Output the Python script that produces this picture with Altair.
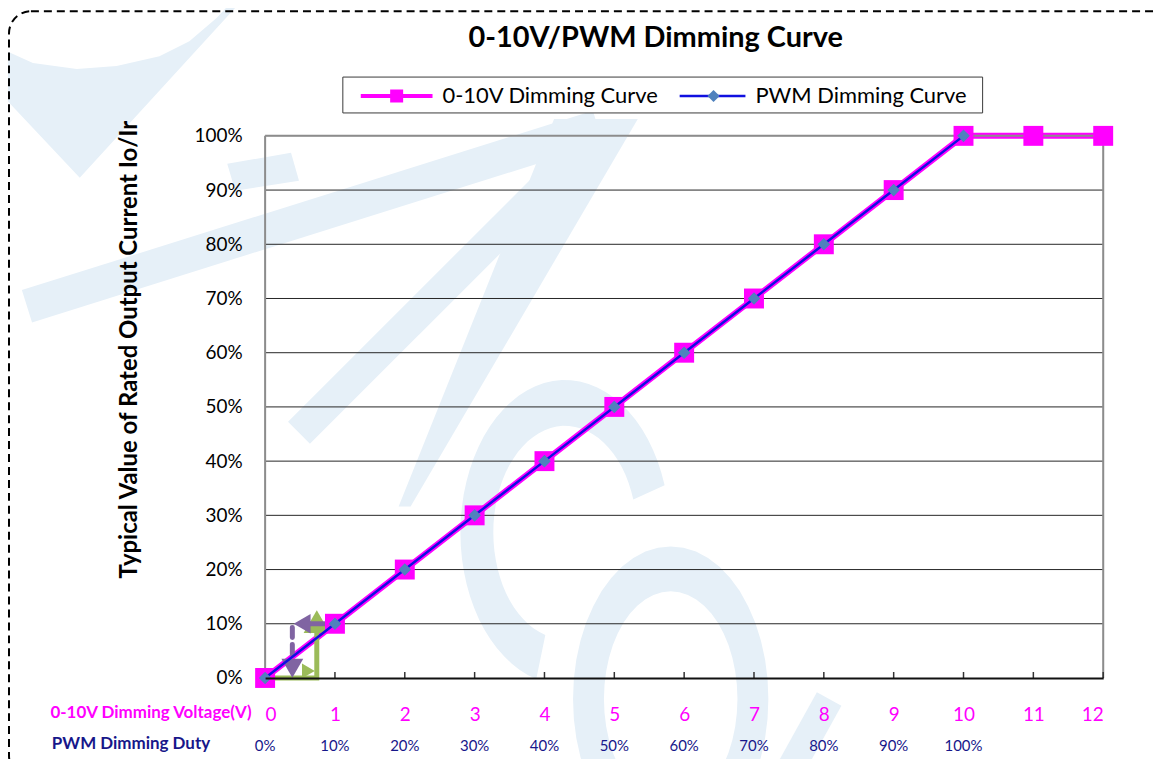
import math
import altair as alt
import pandas as pd

# ---- data ----
volt_x = [0, 1, 2, 3, 4, 5, 6, 7, 8, 9, 10, 11, 12]
volt_y = [0, 10, 20, 30, 40, 50, 60, 70, 80, 90, 100, 100, 100]
pwm_x = [0, 1, 2, 3, 4, 5, 6, 7, 8, 9, 10]
pwm_y = [0, 10, 20, 30, 40, 50, 60, 70, 80, 90, 100]
duty_labels = ["0%", "10%", "20%", "30%", "40%", "50%", "60%", "70%", "80%", "90%", "100%"]
y_ticks = [0, 10, 20, 30, 40, 50, 60, 70, 80, 90, 100]
grid_y = [10, 20, 30, 40, 50, 60, 70, 80, 90]

# annotation arrows (data units)
green_x = [0, 0.74, 0.74]
green_y = [0, 0, 8.5]
purple_hx = [0.92, 0.58]
purple_hy = [10, 10]
purple_vx = [0.39, 0.39]
purple_vy = [9.3, 3.6]

FONT = "Lato"
MAGENTA = "#ff00ff"
NAVY = "#17178a"
WM = "#e6f0f8"
W, H = 841, 544
OX, OY = 266, 135  # page position of the plot origin (for the watermark drawing)

volt_df = pd.DataFrame({"v": volt_x, "pct": volt_y})
pwm_df = pd.DataFrame({"v": pwm_x, "pct": pwm_y})
duty_df = pd.DataFrame({"v": pwm_x, "duty": duty_labels})
tick_df = pd.DataFrame({"v": volt_x})
grid_df = pd.DataFrame({"pct": grid_y})
one = pd.DataFrame({"k": [0]})

xs = alt.Scale(domain=[0, 12], nice=False, zero=False)
ys = alt.Scale(domain=[0, 100], nice=False)


# ---- watermark helpers (decorative background logo) ----
def poly(pts):
    return "M" + "L".join(f"{x - OX:.1f},{y - OY:.1f}" for x, y in pts) + "Z"


def ring(cx, cy, rxo, ryo, rxi, ryi, t0, t1, n=48):
    outer = [(cx + rxo * math.cos(math.radians(t0 + (t1 - t0) * i / n)),
              cy + ryo * math.sin(math.radians(t0 + (t1 - t0) * i / n))) for i in range(n + 1)]
    inner = [(cx + rxi * math.cos(math.radians(t1 - (t1 - t0) * i / n)),
              cy + ryi * math.sin(math.radians(t1 - (t1 - t0) * i / n))) for i in range(n + 1)]
    return outer, inner


def band(x1, y1, x2, y2, w):
    dx, dy = x2 - x1, y2 - y1
    L = math.hypot(dx, dy)
    nx, ny = -dy / L * w / 2, dx / L * w / 2
    return [(x1 + nx, y1 + ny), (x2 + nx, y2 + ny), (x2 - nx, y2 - ny), (x1 - nx, y1 - ny)]


c_out, c_in = ring(567, 533, 105, 153, 72, 107, -18, -254)
o_out, o_in = ring(673, 700, 98, 153, 67, 108, 0, 360)
wm_paths = [
    poly(c_out + c_in),
    poly(o_out) + poly(o_in),
    poly([(0, 47), (33, 62), (77, 68), (117, 65), (160, 55), (190, 40), (217, 17), (233, 0),
          (242, 0), (80, 177), (0, 92)]),
    poly(band(27, 306, 600, 126, 34)),
    poly(band(300, 433, 565, 168, 31)),
    poly([(556, 118), (640, 118), (412, 507), (400, 507)]),
    poly([(228, 163), (292, 152), (300, 180), (236, 190)]),
    poly(band(832, 700, 785, 785, 28)),
]
watermark = [
    alt.Chart(one).mark_point(shape=p, size=4, filled=True, color=WM, opacity=1, strokeWidth=0).encode(
        x=alt.value(0), y=alt.value(0))
    for p in wm_paths
]

# outer dashed border
border = alt.Chart(one).mark_rect(
    fill=None, fillOpacity=0, stroke="black", strokeWidth=2, strokeDash=[8, 5], cornerRadius=22
).encode(x=alt.value(-257), x2=alt.value(W + 120), y=alt.value(-125), y2=alt.value(H + 100))

# axes carried by the main line
volt_line = alt.Chart(volt_df).mark_line(color=MAGENTA, strokeWidth=6).encode(
    x=alt.X("v:Q", scale=xs, axis=alt.Axis(
        values=volt_x, format="d", labelColor=MAGENTA, labelFontSize=19, labelFont=FONT,
        ticks=False, tickSize=0, labelPadding=37, labelBaseline="middle",
        domainColor="#111111", domainWidth=2, grid=False, zindex=1,
        title="0-10V Dimming Voltage(V)", titleX=-14, titleY=35, titleAlign="right",
        titleBaseline="middle", titleColor=MAGENTA, titleFontSize=17, titleFontWeight="bold",
        titleFont=FONT)),
    y=alt.Y("pct:Q", scale=ys, axis=alt.Axis(
        values=y_ticks, labelExpr="datum.value + '%'", labelFontSize=19, labelFont=FONT,
        labelColor="black", labelPadding=23, ticks=False, tickSize=0, domain=False,
        grid=False, zindex=1,
        title="Typical Value of Rated Output Current Io/Ir", titleFontSize=24,
        titleFontWeight="bold", titleFont=FONT, titleColor="black",
        titleX=-136, titleY=214, titleAngle=270, titleAlign="center", titleBaseline="middle")),
)

grid = alt.Chart(grid_df).mark_rule(color="#262626", strokeWidth=1).encode(
    y=alt.Y("pct:Q", scale=ys), x=alt.value(0), x2=alt.value(W))
frame_left = alt.Chart(one).mark_rule(color="#8c8c8c", strokeWidth=2).encode(
    x=alt.value(0), y=alt.value(0), y2=alt.value(H))
frame_right = alt.Chart(one).mark_rule(color="#8c8c8c", strokeWidth=2).encode(
    x=alt.value(W), y=alt.value(0), y2=alt.value(H))
frame_top = alt.Chart(one).mark_rule(color="#8c8c8c", strokeWidth=2).encode(
    x=alt.value(0), x2=alt.value(W), y=alt.value(0))

ticks = alt.Chart(tick_df).mark_rule(color="#333333", strokeWidth=1.5).encode(
    x=alt.X("v:Q", scale=xs), y=alt.value(H - 6), y2=alt.value(H))

volt_pts = alt.Chart(volt_df).mark_point(shape="square", filled=True, color=MAGENTA, size=400, opacity=1).encode(
    x=alt.X("v:Q", scale=xs), y=alt.Y("pct:Q", scale=ys))
pwm_line = alt.Chart(pwm_df).mark_line(color="#1010e0", strokeWidth=2.5).encode(
    x=alt.X("v:Q", scale=xs), y=alt.Y("pct:Q", scale=ys))
pwm_pts = alt.Chart(pwm_df).mark_point(shape="diamond", filled=True, color="#4f81bd", size=160, opacity=1).encode(
    x=alt.X("v:Q", scale=xs), y=alt.Y("pct:Q", scale=ys))

# annotation arrows
GREEN = "#9bbb59"
PURPLE = "#8064a2"
g_df = pd.DataFrame({"v": green_x, "pct": green_y, "o": [0, 1, 2]})
green_line = alt.Chart(g_df).mark_line(color=GREEN, strokeWidth=5).encode(
    x=alt.X("v:Q", scale=xs), y=alt.Y("pct:Q", scale=ys), order="o:Q")
green_head = alt.Chart(pd.DataFrame({"v": [0.74], "pct": [10.4]})).mark_point(
    shape="triangle-up", filled=True, color=GREEN, size=700, opacity=1).encode(
    x=alt.X("v:Q", scale=xs), y=alt.Y("pct:Q", scale=ys))
green_small = alt.Chart(pd.DataFrame({"v": [0.62], "pct": [1.3]})).mark_point(
    shape="triangle-right", filled=True, color=GREEN, size=220, opacity=1).encode(
    x=alt.X("v:Q", scale=xs), y=alt.Y("pct:Q", scale=ys))
ph_df = pd.DataFrame({"v": purple_hx, "pct": purple_hy})
purple_h = alt.Chart(ph_df).mark_line(color=PURPLE, strokeWidth=5).encode(
    x=alt.X("v:Q", scale=xs), y=alt.Y("pct:Q", scale=ys))
purple_left = alt.Chart(pd.DataFrame({"v": [0.53], "pct": [10]})).mark_point(
    shape="triangle-left", filled=True, color=PURPLE, size=380, opacity=1).encode(
    x=alt.X("v:Q", scale=xs), y=alt.Y("pct:Q", scale=ys))
pv_df = pd.DataFrame({"v": purple_vx, "pct": purple_vy})
purple_v = alt.Chart(pv_df).mark_line(color=PURPLE, strokeWidth=5, strokeDash=[10, 7], strokeCap="round").encode(
    x=alt.X("v:Q", scale=xs), y=alt.Y("pct:Q", scale=ys))
purple_down = alt.Chart(pd.DataFrame({"v": [0.39], "pct": [1.8]})).mark_point(
    shape="triangle-down", filled=True, color=PURPLE, size=480, opacity=1).encode(
    x=alt.X("v:Q", scale=xs), y=alt.Y("pct:Q", scale=ys))

# second label row
duty_text = alt.Chart(duty_df).mark_text(fontSize=15, font=FONT, color=NAVY, baseline="middle").encode(
    x=alt.X("v:Q", scale=xs), y=alt.value(H + 68), text="duty:N")
duty_title = alt.Chart(one).mark_text(
    text="PWM Dimming Duty", fontSize=17, font=FONT, fontWeight="bold", color=NAVY,
    align="left", baseline="middle").encode(x=alt.value(-214), y=alt.value(H + 66))

# chart title
title = alt.Chart(one).mark_text(
    text="0-10V/PWM Dimming Curve", fontSize=29, font=FONT, fontWeight="bold", color="black",
    align="center", baseline="middle").encode(x=alt.value(392), y=alt.value(-98))

# legend
leg_box = alt.Chart(one).mark_rect(fill="white", stroke="#3a3a3a", strokeWidth=1).encode(
    x=alt.value(78), x2=alt.value(720), y=alt.value(-59), y2=alt.value(-23))
leg_l1 = alt.Chart(one).mark_rule(color=MAGENTA, strokeWidth=4).encode(
    x=alt.value(96), x2=alt.value(168), y=alt.value(-40))
leg_p1 = alt.Chart(one).mark_point(shape="square", filled=True, color=MAGENTA, size=170, opacity=1).encode(
    x=alt.value(132), y=alt.value(-40))
leg_t1 = alt.Chart(one).mark_text(text="0-10V Dimming Curve", fontSize=22, font=FONT, align="left",
                                  baseline="middle", color="black").encode(x=alt.value(178), y=alt.value(-40))
leg_l2 = alt.Chart(one).mark_rule(color="#1010e0", strokeWidth=2.5).encode(
    x=alt.value(416), x2=alt.value(482), y=alt.value(-40))
leg_p2 = alt.Chart(one).mark_point(shape="diamond", filled=True, color="#4f81bd", size=150, opacity=1).encode(
    x=alt.value(450), y=alt.value(-40))
leg_t2 = alt.Chart(one).mark_text(text="PWM Dimming Curve", fontSize=22, font=FONT, align="left",
                                  baseline="middle", color="black").encode(x=alt.value(492), y=alt.value(-40))

chart = alt.layer(
    *watermark,
    border, volt_line, grid, frame_left, frame_right, frame_top, ticks,
    green_line, green_head, green_small, purple_h, purple_left, purple_v, purple_down,
    volt_pts, pwm_line, pwm_pts,
    duty_text, duty_title, title,
    leg_box, leg_l1, leg_p1, leg_t1, leg_l2, leg_p2, leg_t2,
).properties(
    width=W, height=H,
    autosize=alt.AutoSizeParams(type="none"),
    padding={"left": 258, "top": 127, "right": 55, "bottom": 80},
).configure_view(stroke=None).configure(background="white")

chart.save("out.html", embed_options={"renderer": "svg", "actions": False})
